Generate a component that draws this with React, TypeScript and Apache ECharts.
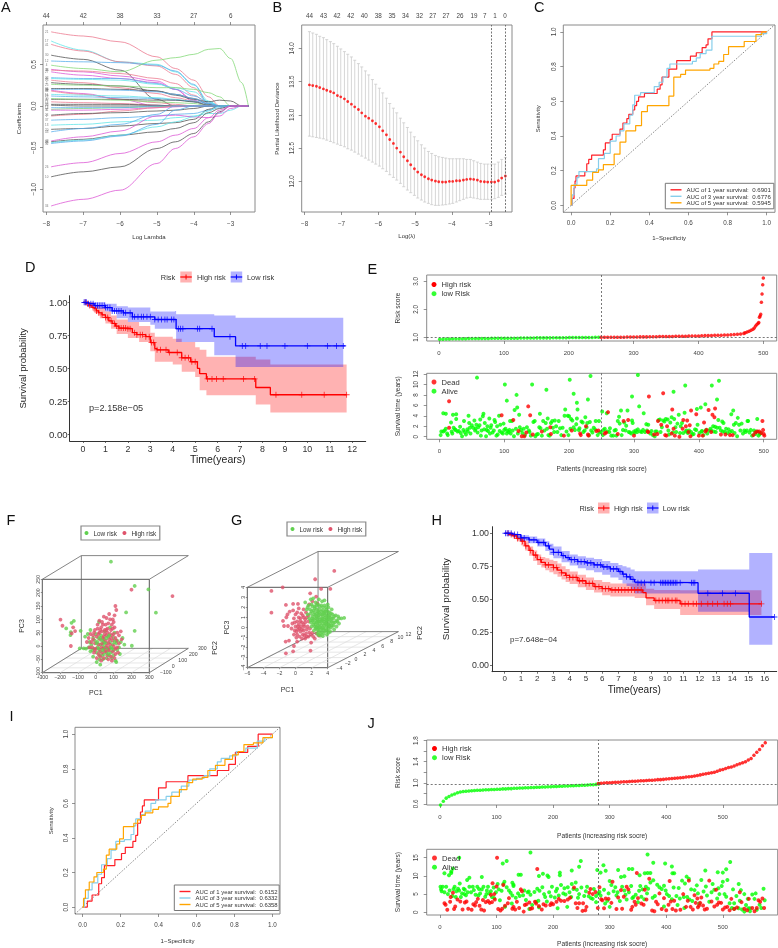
import React, { useEffect, useRef } from "react";
import * as echarts from "echarts";

const FONT = "Liberation Sans";

// ---------- Panel A ----------
const aKnots = [-7.87, -7, -6, -5, -4.5, -4, -3.6, -3.3, -3, -2.7, -2.52];
const aColors = ["#555555", "#ec7b90", "#85d97a", "#5cb0ec", "#62e6e8", "#dd5ad6"];
const aLines: number[][] = [
  [1, .89, .84, .77, .59, .45, .31, .11],
  [4, .78, .67, .53, .5, .41, .25, .06],
  [1, .74, .66, .53, .48, .38, .22, .03],
  [0, .61, .56, .43, .08],
  [3, .54, .53, .52, .49, .42, .26, .03],
  [2, .49, .45, .41, .55, .58, .62, .68, .69, .57, .28],
  [5, .44, .41, .36, .3, .2, .07],
  [1, .43, .42, .39, .33, .27, .13, .02],
  [5, .41, .37, .33, .28, .2, .05],
  [3, .34, .33, .33, .27, .2, .12, .05],
  [4, .33, .32, .31, .26, .22, .17, .05],
  [1, .31, .28, .22, .15, .1, .06],
  [0, .28, .26, .24, .18, .14, .09, .02],
  [2, .26, .25, .24, .22, .22, .2, .16, .11],
  [0, .21, .21, .2, .18, .13, .08, .05, .07, .06],
  [3, .2, .2, .19, .17, .14, .09, .03],
  [5, .19, .15, .08],
  [1, .18, .14, .08, .04, .02],
  [4, .14, .13, .12, .1, .08, .05, .01],
  [3, .12, .11, .1, .09, .07, .06, .03],
  [0, .08, .08, .08, .07, .07, .05, .01],
  [2, .09, .08, .07, .05, .04, .03],
  [1, .05, .04, .03, .01],
  [0, .02, .02, .02, .01],
  [0, .01],
  [2, -.04, -.03, -.02, -.01],
  [3, -.02, -.02, -.02],
  [5, -.05, -.05, -.04, -.02, -.01],
  [1, -.12, -.1, -.06, -.02],
  [0, -.11, -.09, -.08, -.06, -.05, -.03],
  [3, -.17, -.16, -.14, -.12, -.1, -.09, -.05, -.02],
  [4, -.23, -.22, -.19, -.17, -.14, -.12, -.09, -.09, -.05],
  [0, -.28, -.27, -.24, -.21, -.2, -.16, -.04],
  [3, -.31, -.27, -.22, -.1],
  [5, -.42, -.37, -.3, -.12, -.11, -.13, -.14, -.12, -.03],
  [0, -.43, -.4, -.35, -.31, -.27, -.2, -.08, -.03],
  [4, -.44, -.41, -.35, -.25, -.19, -.13, -.06],
  [3, -.45, -.42, -.36, -.22, -.05],
  [0, -.85, -.79, -.73, -.51, -.43, -.33, -.19, -.07],
  [5, -.73, -.68, -.57, -.43, -.35, -.27, -.14, -.05],
  [5, -1.2, -1.12, -1.01, -.69, -.51, -.37, -.21, -.08],
];
const aIds = ["21","17","41","30","12","4","38","9","27","33","6","15","2","25","36","19","8","44","11","29","3","40","14","22","35","7","18","31","1","24","37","13","20","43","42","28","5","32","10","26","34"];
const aTop: Record<string, string> = { "-8": "44", "-7": "42", "-6": "38", "-5": "33", "-4": "27", "-3": "6" };

// ---------- Panel B ----------
const bX = [-7.87,-7.78,-7.68,-7.59,-7.49,-7.40,-7.30,-7.21,-7.11,-7.02,-6.92,-6.83,-6.73,-6.64,-6.54,-6.45,-6.35,-6.26,-6.16,-6.07,-5.97,-5.88,-5.78,-5.69,-5.59,-5.50,-5.40,-5.31,-5.21,-5.12,-5.02,-4.93,-4.83,-4.74,-4.64,-4.55,-4.45,-4.36,-4.26,-4.17,-4.07,-3.98,-3.88,-3.79,-3.69,-3.60,-3.50,-3.41,-3.31,-3.22,-3.12,-3.03,-2.93,-2.84,-2.74,-2.65,-2.55];
const bMid = [13.45,13.44,13.43,13.41,13.39,13.37,13.35,13.33,13.29,13.27,13.24,13.20,13.16,13.12,13.08,13.03,12.98,12.95,12.91,12.87,12.82,12.76,12.70,12.63,12.57,12.50,12.44,12.37,12.31,12.25,12.19,12.14,12.10,12.07,12.04,12.02,12.005,11.995,11.99,11.99,12.0,12.0,12.01,12.01,12.02,12.03,12.035,12.03,12.02,12.0,11.995,11.99,11.99,11.99,12.01,12.05,12.08];
const bUp = [14.25,14.23,14.21,14.18,14.16,14.13,14.10,14.07,14.03,13.99,13.95,13.91,13.87,13.82,13.77,13.72,13.66,13.60,13.53,13.46,13.40,13.33,13.25,13.17,13.10,13.03,12.95,12.88,12.81,12.74,12.67,12.61,12.55,12.50,12.45,12.42,12.39,12.37,12.36,12.35,12.34,12.34,12.34,12.34,12.34,12.33,12.33,12.31,12.29,12.27,12.26,12.26,12.26,12.26,12.29,12.33,12.36];
const bLo = [12.68,12.67,12.66,12.65,12.64,12.62,12.60,12.58,12.56,12.54,12.52,12.49,12.47,12.44,12.41,12.38,12.35,12.32,12.29,12.26,12.23,12.19,12.15,12.10,12.06,12.02,11.97,11.92,11.87,11.83,11.79,11.75,11.72,11.69,11.67,11.65,11.64,11.64,11.645,11.65,11.66,11.67,11.69,11.71,11.73,11.75,11.76,11.75,11.74,11.73,11.73,11.73,11.73,11.74,11.76,11.79,11.81];
const bTopX = [-7.87,-7.49,-7.12,-6.75,-6.38,-6.0,-5.63,-5.26,-4.88,-4.52,-4.16,-3.78,-3.40,-3.11,-2.83,-2.56];
const bTopL = ["44","43","42","42","40","38","35","34","32","27","27","26","19","7","1","0"];
const bVert = [-2.93, -2.56];

// ---------- Panel C ----------
const cRed = [[0,0],[.005,.04],[.015,.1],[.02,.14],[.025,.17],[.07,.195],[.08,.24],[.09,.265],[.105,.29],[.165,.32],[.175,.36],[.2,.38],[.21,.41],[.25,.44],[.265,.475],[.285,.5],[.295,.525],[.315,.55],[.325,.575],[.335,.6],[.345,.625],[.375,.645],[.44,.67],[.455,.695],[.465,.74],[.5,.785],[.54,.835],[.61,.86],[.64,.88],[.67,.91],[.69,.925],[.7,.96],[.72,1],[.97,1],[1,1]];
const cBlue = [[0,0],[.005,.06],[.015,.12],[.03,.16],[.04,.195],[.13,.21],[.14,.27],[.17,.3],[.2,.37],[.23,.4],[.25,.43],[.27,.47],[.3,.52],[.315,.58],[.325,.635],[.355,.65],[.425,.685],[.45,.71],[.47,.74],[.49,.79],[.505,.815],[.62,.83],[.64,.85],[.66,.875],[.69,.895],[.72,.975],[.95,.975],[.97,.99],[1,1]];
const cOrange = [[0,0],[0,.115],[.08,.145],[.11,.19],[.14,.205],[.165,.235],[.22,.295],[.25,.365],[.28,.43],[.33,.46],[.36,.54],[.39,.575],[.5,.63],[.525,.74],[.56,.755],[.585,.78],[.71,.79],[.73,.815],[.755,.83],[.78,.87],[.805,.915],[.885,.945],[.945,.985],[.975,1],[1,1]];
const cNames = ["AUC of 1 year survival:  0.6901", "AUC of 3 year survival:  0.6776", "AUC of 5 year survival:  0.5945"];

// ---------- Panel I ----------
const iRed = [[0,0],[.025,.035],[.05,.07],[.085,.135],[.1,.17],[.115,.24],[.17,.275],[.205,.31],[.225,.345],[.265,.38],[.28,.415],[.29,.485],[.305,.55],[.315,.585],[.325,.62],[.4,.69],[.44,.725],[.555,.76],[.71,.79],[.77,.825],[.805,.895],[.87,.93],[.925,1],[1,1]];
const iBlue = [[0,0],[.01,.05],[.03,.1],[.05,.14],[.08,.19],[.1,.245],[.13,.28],[.15,.33],[.175,.38],[.22,.39],[.255,.42],[.27,.47],[.28,.51],[.31,.535],[.33,.555],[.36,.6],[.385,.62],[.44,.64],[.47,.665],[.52,.7],[.56,.735],[.6,.745],[.64,.76],[.67,.8],[.71,.84],[.73,.86],[.775,.875],[.81,.9],[.86,.92],[.92,.96],[.96,.98],[1,1]];
const iOrange = [[0,0],[.005,.05],[.015,.1],[.035,.145],[.06,.175],[.075,.2],[.11,.22],[.125,.3],[.14,.335],[.18,.365],[.195,.395],[.215,.465],[.27,.485],[.29,.505],[.31,.53],[.33,.545],[.37,.565],[.4,.58],[.45,.6],[.465,.64],[.51,.68],[.55,.72],[.58,.74],[.63,.75],[.66,.79],[.7,.82],[.75,.855],[.79,.88],[.82,.9],[.85,.94],[.9,.95],[.95,.98],[1,1]];
const iNames = ["AUC of 1 year survival:  0.6152", "AUC of 3 year survival:  0.6332", "AUC of 5 year survival:  0.6358"];

// ---------- Panel D ----------
const dHigh = [[0,1],[.15,.99],[.3,.975],[.4,.96],[.5,.95],[.6,.935],[.7,.92],[.85,.905],[1,.885],[1.15,.86],[1.3,.84],[1.45,.82],[1.6,.805],[2,.8],[2.2,.77],[2.4,.755],[2.8,.74],[3,.695],[3.2,.65],[3.3,.64],[3.8,.62],[4.3,.62],[4.4,.58],[4.8,.55],[5.1,.5],[5.2,.46],[5.5,.42],[7.7,.355],[8.35,.3],[11.75,.3]];
const dLow = [[0,1],[.25,.99],[.5,.975],[1,.96],[1.3,.935],[1.8,.92],[2.2,.89],[3.2,.87],[4.15,.8],[5.85,.74],[6.8,.67],[11.7,.67]];
const dHighBand = [[0,1,1],[.25,.96,1],[.5,.92,.98],[.75,.88,.96],[1,.84,.93],[1.25,.8,.9],[1.5,.76,.87],[2,.73,.85],[2.5,.7,.82],[3,.63,.77],[3.2,.55,.74],[4,.53,.725],[4.4,.475,.7],[5,.435,.66],[5.2,.335,.64],[5.5,.297,.587],[7.7,.227,.567],[8.35,.166,.53],[11.75,.166,.53]];
const dLowBand = [[0,1,1],[.25,.98,1],[.5,.95,1],[1,.93,.99],[1.5,.88,.97],[2,.85,.96],[3,.83,.93],[3.2,.8,.93],[4.1,.8,.935],[4.15,.7,.91],[5.85,.6,.9],[6.8,.51,.884],[11.6,.51,.884]];
const dHighCens = [.1,.2,.3,.45,.6,.7,.85,1,1.1,1.25,1.4,1.5,1.6,1.7,1.8,1.9,2,2.1,2.3,2.4,2.55,2.65,2.8,2.95,3.05,3.15,3.3,3.45,3.7,3.85,4.2,4.4,4.55,4.7,4.85,5,5.55,5.75,5.95,6.25,7.15,7.65,8.6,9.75,10.75,11.75];
const dLowCens = [.05,.1,.15,.25,.35,.45,.55,.65,.75,.85,.95,1,1.1,1.2,1.3,1.4,1.5,1.6,1.7,1.8,1.9,2.1,2.2,2.3,2.45,2.6,2.7,2.85,3,3.2,3.35,3.5,3.65,3.75,3.95,4.05,4.25,4.35,4.45,5.1,5.2,5.75,6.55,7.1,7.25,7.9,8.2,9,10,10.9,11.3,11.6];

// ---------- Panel H ----------
const hHigh = [[0,1],[.25,.99],[.5,.98],[.75,.96],[1,.94],[1.25,.905],[1.5,.87],[1.75,.835],[2,.8],[2.25,.78],[2.5,.76],[3,.74],[3.25,.72],[3.5,.7],[3.75,.68],[4,.665],[4.5,.64],[5,.62],[5.5,.595],[6,.58],[6.5,.57],[8.5,.55],[8.7,.51],[9.2,.49],[10.8,.465],[15.8,.465]];
const hLow = [[0,1],[.5,.99],[1,.965],[1.5,.95],[2,.93],[2.5,.905],[2.75,.88],[3,.855],[3.5,.83],[3.75,.815],[4,.8],[4.5,.785],[5,.775],[5.5,.76],[6,.745],[6.5,.73],[7,.71],[7.25,.69],[7.5,.67],[7.75,.65],[8,.63],[8.2,.625],[11.9,.545],[15.05,.365],[16.6,.365]];
const hHighBand = [[0,1,1],[.25,.98,1],[.5,.96,.99],[.75,.94,.98],[1,.91,.97],[1.25,.87,.94],[1.5,.83,.9],[1.75,.79,.87],[2,.76,.84],[2.25,.74,.82],[2.5,.72,.81],[2.75,.705,.8],[3,.69,.79],[3.25,.67,.77],[3.5,.65,.75],[3.75,.63,.73],[4,.615,.71],[4.5,.59,.685],[5,.57,.665],[5.5,.55,.645],[6,.53,.63],[6.5,.52,.62],[8,.51,.62],[8.7,.455,.58],[9.2,.425,.57],[10.8,.38,.568],[15.8,.38,.568]];
const hLowBand = [[0,1,1],[.25,.99,1],[.5,.98,1],[.75,.96,.995],[1,.945,.985],[1.5,.925,.975],[2,.9,.96],[2.5,.865,.94],[2.75,.835,.92],[3,.81,.9],[3.5,.78,.865],[4,.755,.84],[4.5,.735,.825],[5,.72,.815],[5.5,.705,.805],[6,.685,.79],[6.5,.665,.775],[7,.645,.76],[7.25,.62,.75],[7.5,.6,.74],[7.75,.57,.725],[8,.543,.712],[11.9,.404,.725],[15.05,.155,.85],[16.47,.155,.85]];
const hHighCens = [.2,.4,.6,.8,1.1,1.3,1.6,1.9,2.2,2.5,2.7,3,3.2,3.5,3.8,4,4.2,4.4,4.6,4.8,5,5.2,5.4,5.6,5.8,6,6.2,6.4,6.6,6.8,7,7.2,7.4,7.6,7.8,8,8.2,8.4,9.3,9.5,9.7,9.9,10,10.1,10.3,10.5,10.6,10.9,11.1,11.3,11.6,11.8,12.1,12.5,12.8,13.1,13.5,13.7,13.9,15.8];
const hLowCens = [.05,.15,.25,.4,.6,.8,1,1.2,1.5,1.8,2.1,2.4,2.7,3,3.3,3.6,3.9,4.1,4.3,4.5,4.7,4.9,5.1,5.3,5.5,5.7,5.9,6.1,6.3,6.5,6.7,6.9,7.1,7.3,7.5,7.7,7.9,8.2,8.4,8.6,9,9.2,9.6,9.7,9.8,9.9,10,10.1,10.2,10.3,10.4,10.5,10.6,10.8,11.5,11.6,11.7,12.5,13.4,14.2,16.6];

// ---------- Panel E ----------
const eLowScore = [.93,.935,.94,.94,.945,.945,.95,.95,.95,.955,.955,.955,.96,.96,.96,.96,.965,.965,.965,.965,.97,.97,.97,.97,.97,.975,.975,.975,.975,.975,.98,.98,.98,.98,.98,.985,.985,.985,.985,.985,.99,.99,.99,.99,.99,.995,.995,.995,1,1];
const eHighScore = [1,1,1,1,1,1.005,1.005,1.005,1.01,1.01,1.01,1.01,1.015,1.015,1.015,1.02,1.02,1.02,1.025,1.025,1.03,1.03,1.03,1.035,1.035,1.04,1.04,1.045,1.045,1.05,1.05,1.055,1.06,1.06,1.065,1.07,1.07,1.075,1.08,1.085,1.09,1.1,1.11,1.12,1.14];
const eTail = [[472,1.16],[475,1.19],[478,1.22],[481,1.25],[484,1.29],[486,1.33],[488,1.4],[490,1.46],[492,1.5],[493,1.53],[494,1.72],[495,1.76],[496,1.82],[497,2.25],[498,2.55],[499,2.88],[500,3.12]];
const eDead = [[15,6.8],[96,4.1],[137,5.8],[140,4.1],[114,3.2],[15,1.7],[122,1.1],[127,.1],[131,.1],[134,.8],[144,.4],[158,1],[171,1.8],[172,.5],[192,.2],[204,1.2],[217,.6],[218,.3],[226,2],[229,.4],[230,.2],[242,1.1],[245,1.2],[260,4.7],[257,.8],[255,.6],[275,.5],[284,3],[291,3.2],[300,.2],[322,.9],[321,1],[323,7.7],[345,8.3],[331,.4],[336,.5],[337,3],[342,2.3],[348,.3],[350,.2],[351,2],[358,.6],[359,5.2],[361,1.5],[363,.2],[370,0],[375,1.5],[376,3.2],[380,2],[382,3.1],[384,.9],[386,2.2],[387,.1],[388,5],[396,4.3],[400,.2],[406,.2],[408,2.7],[410,1],[412,1.3],[415,5.1],[419,.9],[421,4.2],[424,3.7],[425,5.4],[434,.4],[441,.4],[448,.3],[452,.3],[484,.3],[487,.8],[490,1],[493,1],[496,.7],[498,3],[499,1.3],[500,.5],[501,.2]];
const eAlive = [[58,11.3],[101,10],[143,10],[165,9],[201,10.9],[233,11.6],[306,11.8],[379,9.8],[420,9.8],[431,10.7],[361,8.6],[207,8.2],[119,8],[104,6.9],[297,7.7],[229,7.1],[212,6.5],[428,7.1],[6,4.5],[10,4.4],
[2,.3],[3,1],[6,1],[8,1.2],[10,1.5],[12,.6],[13,.3],[18,2.7],[19,1],[20,.6],[21,4.2],[22,1.7],[24,1.4],[25,1.3],[26,3.4],[26,4.3],[28,1],[30,1.1],[32,1.9],[33,.7],[35,.1],[37,1.3],[38,3],[39,.9],[41,.4],[43,1.4],[44,1],[45,4],[46,2.6],[47,1.7],[48,.6],[50,2.2],[52,1.7],[54,3.1],[55,1.2],[56,1.5],[57,2.3],[59,.8],[60,1.8],[62,2.2],[63,3.3],[64,.2],[65,1.2],[67,3.9],[68,4.4],[69,1.4],[70,2.6],[72,.1],[73,1.3],[74,2],[75,1.1],[77,3.5],[78,.6],[79,1.7],[80,2.2],[82,.8],[84,1.2],[85,3.2],[86,2.8],[88,.2],[89,2],[90,.4],[92,4],[93,1.1],[94,2.3],[96,.8],[98,.6],[99,2.5],[100,1.3],[102,1.5],[104,.6],[105,1.1],[107,.9],[108,1.3],[109,3],[110,.6],[112,3],[113,1.2],[115,.1],[116,5.1],[118,1.5],[120,5.6],[121,.6],[123,4.2],[124,1.8],[126,1.3],[128,.7],[130,1.5],[132,.3],[135,1.8],[138,1.2],[139,.9],[141,.2],[145,2.8],[147,3],[148,.1],[150,.4],[152,.5],[154,1.8],[155,4.4],[156,1.6],[158,.2],[160,3],[162,1.2],[164,2.6],[166,1.5],[167,3.5],[168,.3],[170,.2],[172,2.6],[174,3],[175,1.7],[177,.9],[178,3.1],[180,2],[182,.9],[184,3],[186,1.6],[188,.3],[190,1.7],[193,4],[194,5.2],[196,1],[198,4],[199,.3],[200,3.9],[202,1.5],[203,3.4],[205,3.1],[207,1.8],[209,1.3],[211,2.4],[212,3.5],[213,5.2],[215,1.3],[216,1.6],[219,2.9],[221,2.7],[222,.9],[224,1.2],[225,3.7],[227,1.8],[228,2.6],[231,.3],[232,2.8],[234,1.2],[236,.8],[238,1.7],[240,1.4],[241,3],[244,.3],[246,3],[247,.8],[249,.9],
[251,4.8],[252,.3],[253,1.3],[255,1.5],[258,4.5],[259,1],[262,.9],[263,1.6],[265,.2],[268,.2],[270,1.2],[272,1.3],[273,.2],[275,3],[277,3.8],[278,2.5],[280,5],[281,.3],[283,1.3],[285,2.7],[287,1.2],[288,2.1],[290,5],[292,.9],[294,.8],[296,.6],[297,3.1],[298,2.6],[300,1],[301,.7],[303,1.2],[305,.9],[306,1.4],[308,5.8],[310,1],[312,.9],[314,1.3],[315,4.5],[317,.9],[319,2.4],[320,1.2],[322,2.3],[325,.6],[327,1.1],[329,.3],[332,.1],[333,1],[335,1],[338,3.2],[340,3.3],[341,.9],[343,1.8],[345,3.1],[347,2.9],[349,3.4],[352,3.3],[353,1.2],[354,.4],[356,2.7],[358,3.7],[360,.8],[362,3.4],[364,1.8],[365,.9],[367,2.5],[369,4.2],[371,.7],[372,2],[374,2.6],[376,.7],[378,4.6],[380,1],[381,1.2],[383,.7],[385,1.2],[388,.9],[390,.4],[392,.5],[394,1.4],[396,1.3],[397,5.3],[398,2.3],[401,.7],[403,5.6],[404,1],[405,1.1],[407,.3],[410,6.2],[411,1.3],[413,.6],[416,1.2],[418,1.5],[419,1.2],[422,2],[423,1],[425,1.9],[426,.9],[428,1.7],[430,3.2],[432,1.7],[434,1.2],[436,2.9],[437,1],[438,2.6],[440,.9],[442,1.5],[444,.7],[446,1.4],[448,.9],[450,4.3],[451,1.1],[453,5],[454,2.3],[455,.7],[457,2.6],[459,.1],[460,3.6],[462,2.3],[464,1.2],[466,2.5],[468,.6],[470,1.2],[472,.9],[474,1.2],[475,3],[476,3],[478,.8],[480,1.3],[482,.2],[485,1.2],[487,.5],[489,1],[490,3.4],[492,.2],[494,.5],[495,.7]];

// ---------- Panel J ----------
const jLowScore = [.58,.65,.71,.74,.77,.79,.81,.825,.835,.84,.845,.85,.855,.86,.86,.865,.87,.87,.875,.875,.88,.88,.885,.885,.89,.89,.895,.895,.9,.9,.905,.905,.91,.91,.915,.915,.92,.92,.925,.925,.93,.93,.935,.935,.94,.94,.945,.945,.95,.95,.955,.955,.96,.965,.965,.97,.98];
const jHighScore = [.985,.99,.995,1,1,1.005,1.01,1.01,1.015,1.02,1.02,1.025,1.03,1.03,1.035,1.04,1.04,1.045,1.05,1.05,1.055,1.06,1.06,1.065,1.07,1.075,1.08,1.085,1.09,1.095,1.1,1.11,1.115,1.12,1.13,1.14,1.15,1.16,1.17,1.18,1.19,1.2,1.22,1.24,1.25,1.27,1.29,1.3,1.32,1.34,1.36,1.38,1.4,1.43,1.46,1.52,1.58,1.63,1.7,1.76];
const jDead = [[8,2.5],[10,2.1],[13,.7],[18,2.9],[19,4.2],[23,5.4],[25,.9],[27,1.6],[31,3.5],[36,3],[40,.8],[44,2.7],[47,3],[50,1],[56,.7],[59,2.2],[62,1.9],[64,2.8],[67,3.7],[70,1.8],[73,.8],[76,3.4],[78,.5],[81,2.8],[85,3.1],[88,2.6],[90,4.8],[92,2.8],[93,8],[96,5],[97,3.5],[101,15],[100,7.1],[103,.9],[107,.5],[110,1],[112,7.5],[115,1.8],[120,2.5],[122,3.9],[128,1],[130,1.5],[133,.8],[136,2.9],[140,1.2],[143,6.3],[145,5.8],[148,.2],[150,2],[153,2.2],[158,2.7],[160,1],[163,1.1],[168,2.9],[170,2.4],[172,11.9],[175,1.7],[180,.8],[183,2.2],[187,1.9],[195,2],[197,2.5],[200,2.2],[206,2.9],[210,3.7],[214,3.2],[220,3.1],[226,3.5],[230,4],[237,6.8],[240,2.5],[243,1.2],[246,2.5],[252,.4],[253,2.5],[257,.6],[259,1.5],[264,5.4],[266,6.4],[270,5],[275,5.6],[279,1.2],[282,6.9],[285,3.6],[287,3.3],[290,1.1],[293,3.8],[298,3.7],[303,2.6],[305,8.4],[312,.9],[315,4.1],[320,6.1],[322,1],[325,4.3],[330,7],[333,6.3],[338,.7],[340,1.5],[344,2.9],[346,2.1],[348,10.8],[350,3.9],[356,2.4],[360,2.1],[362,6.2],[365,3.5],[370,9.2],[375,.5],[379,.3],[382,2.9],[385,2.2],[388,5.2],[392,.9],[396,3.9],[400,.6],[404,2.1],[406,8.6],[408,3],[411,.9],[414,3.2],[417,.5],[425,.7],[430,5],[435,1.5],[438,3.2],[440,8.7],[443,1.5],[447,.8],[450,4.7],[452,2.6],[455,3.8],[456,1.4],[458,1.9],[460,2.6],[462,4.1],[465,1.9],[468,.8],[472,1],[476,8.7],[480,3],[485,1.6],[488,6.2],[490,2.1],[493,2.7],[497,2.6],[500,.8],[504,1.3],[508,1.5],[512,.6],[515,3.7],[520,.9],[525,1.3],[530,5.5],[533,2.8],[538,1],[543,.6],[546,3.7],[552,1.2],[556,.3],[560,1.2],[563,3.3],[566,2.9],[570,3.8],[573,1.2]];
const jAlive = [[160,16.4],[367,15.9],[34,15],[111,13.4],[118,14.1],[249,14.1],[246,12.5],[377,13.6],[398,13.4],[410,12.6],[513,13.8],[289,12.9],[23,12],[20,11.2],[8,10.7],[16,10.2],[20,10.8],[139,10.3],[143,10.3],[175,10],[182,10.6],[190,10.1],[192,9.7],[212,10.9],[212,10.2],[233,11.5],[278,11.6],[284,10.9],[293,11.4],[315,11.6],[320,9.7],[326,9.9],[334,11.9],[340,11.9],[353,10.2],[362,10.7],[367,10.8],[372,10.8],[411,10.7],[414,10.7],[436,9.8],[440,9.2],[469,11.5],[491,11],[500,10.9],[506,11.8],[500,8.4],[74,9.7],[52,9.5],[48,8.9],[35,7.9],[102,7.8],[114,8.4],[128,8.1],[130,7.6],
[1,7],[2,6.3],[3,5.8],[5,7],[8,5.5],[11,7],[14,5],[17,6],[22,4.5],[24,6.4],[26,7],[29,5.8],[32,6.5],[34,6],[37,4.2],[39,5.2],[42,6.5],[43,5],[46,4.7],[49,5.5],[52,7],[55,5.5],[58,7],[60,6.1],[63,4.8],[66,7],[69,6.4],[71,5.2],[74,6.3],[77,7],[80,4.3],[83,6],[85,7],[87,5.2],[90,5.8],[92,4.2],[95,6.8],[99,5.5],[104,6.3],[106,3.3],[112,7.8],[115,1.5],[118,6.9],[122,6],[125,5.4],[127,2.4],[130,7.2],[134,4],[138,5.2],[141,4.5],[147,4.7],[152,3.4],[155,5.5],[157,5.7],[163,2],[167,5.6],[170,2.9],[174,3.2],[176,5.9],[181,6.9],[186,4.2],[189,3],[193,5.5],[198,7],[203,4.1],[207,6.5],[210,4.6],[214,7.5],[218,5.2],[222,4.9],[226,6.9],[229,5.5],[233,7.8],[236,6.4],[240,8.2],[242,6.2],[246,5],[250,6.8],[255,4.5],[260,7],[263,4.4],[267,3.9],[272,6.4],[276,4.5],[280,5.2],[284,4.6],[290,6.2],[292,2.4],[296,3.2],[300,8.6],[303,7.5],[307,5.8],[310,6.9],[314,5.5],[318,3.1],[322,7],[326,6],[330,3.5],[334,5.5],[338,7.2],[342,4.2],[346,4.8],[352,5.9],[356,4.3],[358,6.3],[361,3.6],[364,7],[368,6.5],[372,8.2],[377,8.8],[380,4.5],[388,6.9],[392,6.4],[396,7.3],[401,5],[405,4.5],[413,6.8],[418,4.5],[424,3.8],[428,8.7],[433,7.9],[437,4.2],[441,3.5],[446,3.1],[450,6.1],[454,7.4],[458,2.4],[462,8.9],[466,5.7],[472,4.6],[476,2.9],[482,7.8],[485,6.2],[490,3.8],[494,5],[498,7.2],[503,5],[508,8.9],[512,2.5],[516,1.2],[520,1],[524,4.5],[528,7.8],[532,6.1],[538,5],[541,2],[545,1.1],[548,.3],[552,4.9],[556,3.7],[560,.7],[565,2.1],[568,1.2],[572,6.5],[574,3.3],[528,1.1],[538,.2],[520,2.5],[534,.8],[548,1.1],[432,1.2],[420,2],[396,1.6],[376,4],[350,2.8],[300,1.5],[276,2.8],[225,1.5],[208,1.1],[175,1.4],[158,.9],
[28,4.2],[44,6.2],[68,4.6],[82,5],[96,3.9],[109,5.9],[128,4.6],[149,6],[160,4.8],[172,6.5],[184,5],[196,4.4],[205,5.8],[220,6.6],[232,4.2],[244,4],[258,5.8],[270,3.7],[282,5.6],[298,5.2],[312,4.6],[328,4.8],[340,3.9],[354,7.2],[366,5.2],[384,7.6],[399,6],[410,3.6],[422,6.7],[431,4.2],[444,6.3],[456,5.2],[470,7.1],[480,5.5],[492,6.6],[506,4.3],[518,6.3],[530,3.2],[544,3.7],[558,5.2]];

// ---------- Panel F (PC1 against PC3 as seen on the box front) ----------
const fLowRisk = [[85,316],[218,225],[295,212],[337,125],[218,57],[202,1],[170,126],[18,90],[-123,94],[-136,87],[-166,66],[-85,57],[-142,41],[-140,52],[-90,-9],[-68,-9],
[-60,35],[-45,45],[-30,60],[-15,30],[0,45],[-25,5],[-40,-5],[-55,-10],[-10,-10],[10,15],[25,5],[45,25],[60,10],[80,15],[100,30],[115,10],[130,-5],[140,15],[150,30],[160,5],[135,-30],[100,-15],[85,-25],[65,-10],[45,-5],[25,-20],[5,-25],[-15,-40],[5,-60],[25,-70],[20,-50],[45,-30],[60,-45],[90,-45],[110,-55],[115,-60],[70,35],[50,55],[30,40],[15,30],[-5,20],[80,70],[60,-25],[35,-35],[10,-5],[70,-15],[95,5],[55,-5],[40,5],[-30,-20],[120,20],[105,50],[-20,-15],[-35,15],[20,-35],[40,-50],[75,-35],[100,-35],[120,-15]];
const fHighRisk = [[430,187],[200,211],[110,150],[-198,99],[-187,76],[-140,0],[-127,70],[-135,47],[-116,56],
[20,95],[45,110],[60,105],[75,120],[95,100],[105,115],[115,135],[100,90],[90,80],[70,85],[55,80],[40,80],[30,70],[10,65],[-5,60],[15,45],[35,55],[50,60],[65,65],[85,60],[105,70],[120,50],[130,40],[140,55],[100,45],[80,45],[60,40],[40,30],[25,25],[5,35],[-15,40],[-30,45],[-40,30],[-50,15],[-25,15],[-5,10],[15,5],[35,10],[55,20],[75,25],[95,20],[115,20],[130,10],[145,25],[120,-5],[100,0],[80,5],[60,0],[40,-10],[20,-15],[0,-10],[-20,-5],[-35,-5],[-10,-25],[15,-30],[35,-25],[55,-20],[75,-15],[95,-20],[110,-30],[125,-25],[105,-45],[85,-40],[65,-35],[45,-45],[25,-40],[5,-45],[30,-55],[70,-50],[90,-55],[50,-15],[60,60],[45,15],[70,12],[20,50],[85,30],[30,-5],[-15,25],[10,80],[50,45],[95,65],[110,-10],[-5,-15],[75,-5],[35,90],[80,100],[65,50],[25,60],[45,35],[90,40],[-10,50],[110,30]];
const fLowTop = [[25,30],[60,30],[85,-5],[40,-15],[5,10],[105,15],[70,-30],[50,12],[15,-10],[90,-10],[75,40],[35,20]];
const fDepth = [["−100",165.7,671.7],["0",173.3,666],["100",182.7,659.7],["200",193.3,654.3],["300",202.3,647.7]];

// ---------- Panel G (PC1 against PC3 as seen on the box front) ----------
const gHighRisk = [[-3,3.64],[-1.6,4],[-3,1.48],[4.82,5.63],[2.44,4.8],[3.18,3.84],[4.33,3.84],[1.82,3.4],[2.56,3.08],[-1.2,2.25],[-.3,2.35],[.3,2.35],[-1.14,1.02],[-1.56,.65],[-1.43,.15],[-.94,.15],[-1,1.3],[-.73,1.58],[-1.23,-1.4],[-.81,-1.3],[-.2,-1.84],[-1.2,-2.57],[-.3,-2.37],[1.86,-2.3],[1.94,-1.5],[.2,-1.4],[2.4,-1.1],[1.2,-1.1],
[-.3,1.7],[0,1.3],[.4,1.9],[.7,1.4],[1,1.8],[1.3,1.5],[-.2,.9],[.2,.6],[.6,.9],[1,1],[1.4,1],[-.4,.4],[0,.1],[.4,.3],[.8,.5],[1.2,.5],[1.6,.6],[-.5,-.1],[-.1,-.3],[.3,-.2],[.7,.1],[1.1,.1],[1.5,.1],[-.2,-.7],[.2,-.7],[.6,-.4],[1,-.3],[1.4,-.2],[1.8,-.1],[.1,-1],[.5,-.9],[.9,-.7],[1.3,-.6],[1.7,-.5],[2.1,-.5],[.8,-1.1],[1.6,-.9],[2.2,-.9],[.6,.6],[1,.3],[.4,1],[.1,-.4],[.5,-.1],[2.6,-.6],[2.9,-.8],[1.7,2.3],[2.1,2.6],[2.7,2.4],[.9,1.2],[.2,1.5],[1.2,.8],[.8,-.2],[.3,.1],[1.4,-.9],[-.1,.5],[1.9,-.7],[1.1,-.8],[1.6,1.2]];
const gLowRisk = [[1.9,2.8],[2.2,2.9],[2.5,2.5],[2.9,2.8],[3.3,2.6],[3.6,2.7],[4,2.3],[1.6,2.2],[2,2.3],[2.4,2.1],[2.8,2.3],[3.2,2.2],[3.6,2.2],[4.1,2],[4.5,1.8],[1.4,1.8],[1.8,1.8],[2.2,1.7],[2.6,1.8],[3,1.8],[3.4,1.7],[3.8,1.8],[4.2,1.5],[4.6,1.3],[5,1.2],[5.4,.9],[1.5,1.3],[1.9,1.4],[2.3,1.3],[2.7,1.4],[3.1,1.3],[3.5,1.4],[3.9,1.3],[4.3,1],[4.7,.9],[5.2,.6],[5.7,.9],[1.7,.9],[2.1,.9],[2.5,.9],[2.9,1],[3.3,.9],[3.7,1],[4.1,.8],[4.5,.6],[4.9,.5],[5.4,.4],[1.9,.5],[2.3,.5],[2.7,.6],[3.1,.6],[3.5,.6],[3.9,.5],[4.3,.4],[4.7,.2],[5.1,.1],[2,.1],[2.4,.1],[2.8,.2],[3.2,.2],[3.6,.2],[4,.1],[4.4,0],[4.8,-.2],[2.3,-.3],[2.7,-.2],[3.1,-.2],[3.5,-.2],[3.9,-.3],[4.3,-.4],[2.7,-.6],[3.1,-.6],[3.5,-.6],[3.9,-.7],[3.1,-.8],[3.4,-.85],[1.2,2.5],[1.5,2],[2.4,1.5],[2.9,1.5],[3.4,1.1],[3.9,.9],[2.5,.3],[3,.4],[3.4,.4],[3.8,.7],[2.1,.7],[2.6,1.1],[3.2,1.6],[3.7,1.6],[4.2,1.2],[2.9,-.4],[3.7,-.1],[4.1,-.1],
[2.1,2.1],[2.6,2.2],[3,2.1],[3.4,2],[3.8,2],[2,1.6],[2.4,1.9],[2.8,1.6],[3.6,1.5],[4,1.6],[4.4,1.4],[4.8,1.1],[2.1,1.1],[2.5,1.2],[2.9,1.2],[3.3,1.3],[3.7,1.2],[4.1,1.1],[4.5,.9],[1.9,.7],[2.3,.8],[2.7,.8],[3.1,.8],[3.5,.8],[3.9,.7],[4.3,.7],[4.7,.5],[2.2,.3],[2.6,.5],[2.9,.6],[3.3,.7],[3.7,.4],[4.1,.3],[4.5,.2],[2.6,0],[3,.05],[3.4,0],[3.8,.3],[4.2,.15],[2.5,-.1],[2.9,-.05],[3.3,-.1],[3.7,-.35],[4.1,-.5],[2.9,-.75],[3.3,-.45],[5.1,.7],[5.3,1.1],[6.05,.95]];
const gDepth = [["−4",339.3,668.3],["−2",347.7,663.3],["0",356,659],["2",365,654.3],["4",374,650],["6",382.7,645.7],["8",391.7,641],["10",400.5,636.5],["12",408.5,634]];

const panelLetters = [["A",1,14],["B",272.5,14],["C",534,14],["D",25,274],["E",367.5,276],["F",6.5,527],["G",231,527],["H",431.5,527],["I",9.5,723],["J",367.5,730]];

// ---------- helpers ----------
type Box = [number, number, number, number];
const grids: any[] = [], xAxes: any[] = [], yAxes: any[] = [], series: any[] = [], legends: any[] = [], graphics: any[] = [];
const num = (d: number) => (v: number) => v.toFixed(d).replace("-", "−");

function axis(g: number, o: any) {
  return {
    type: "value", gridIndex: g, min: o.min, max: o.max, position: o.pos,
    splitLine: { show: false },
    axisLine: { show: !!o.line, onZero: false, lineStyle: { color: "#333", width: 1 } },
    axisTick: { show: true, length: o.tickLen ?? 3, customValues: o.tickValues || o.ticks, lineStyle: { color: o.tickColor || "#666", width: 0.7 } },
    axisLabel: { customValues: o.ticks, formatter: o.fmt, fontSize: o.size ?? 6.3, fontFamily: FONT, color: o.color || "#444", margin: o.margin ?? 5, rotate: o.rotate ?? 0 },
    name: o.name, nameLocation: "middle", nameGap: o.gap ?? 20,
    nameTextStyle: { fontSize: o.nameSize ?? 6, fontFamily: FONT, color: o.nameColor || "#333" },
  };
}
function panel(b: Box, x: any, y: any, frame = true) {
  const g = grids.length;
  grids.push({ show: frame, left: b[0], top: b[1], width: b[2] - b[0], height: b[3] - b[1], borderColor: "#8a8a8a", borderWidth: 1, backgroundColor: "transparent" });
  xAxes.push(axis(g, x));
  yAxes.push(axis(g, y));
  return { xAxisIndex: xAxes.length - 1, yAxisIndex: yAxes.length - 1, g };
}
const refs = (p: any) => ({ xAxisIndex: p.xAxisIndex, yAxisIndex: p.yAxisIndex });

function segments(p: any, segs: number[][], color: string, width: number, dash?: number[]) {
  series.push({
    type: "custom", ...refs(p), silent: true, data: segs, clip: false,
    renderItem: (_: any, api: any) => {
      const a = api.coord([api.value(0), api.value(1)]);
      const b = api.coord([api.value(2), api.value(3)]);
      return { type: "line", shape: { x1: a[0], y1: a[1], x2: b[0], y2: b[1] }, style: { stroke: color, lineWidth: width, lineDash: dash, fill: "none" } };
    },
  });
}
function label(text: string, x: number, y: number, size: number, opts: any = {}) {
  graphics.push({
    type: "text", x, y, rotation: opts.rotation || 0, silent: true, z: 10,
    style: { text, fontSize: size, fontFamily: FONT, fill: opts.fill || "#333", textAlign: opts.align || "center", textVerticalAlign: opts.valign || "middle" },
  });
}
const stepAt = (c: number[][], t: number) => {
  let y = c[0][1];
  for (const k of c) if (k[0] <= t) y = k[1];
  return y;
};
function ribbon(p: any, band: number[][], fill: string) {
  series.push({
    type: "custom", ...refs(p), silent: true, data: band,
    renderItem: (ctx: any, api: any) => {
      if (ctx.dataIndex !== 0) return null;
      const upper: number[][] = [], lower: number[][] = [];
      band.forEach((r, i) => {
        const next = band[Math.min(i + 1, band.length - 1)][0];
        upper.push(api.coord([r[0], r[2]]), api.coord([next, r[2]]));
        lower.push(api.coord([r[0], r[1]]), api.coord([next, r[1]]));
      });
      return { type: "polygon", shape: { points: upper.concat(lower.reverse()) }, style: { fill } };
    },
  });
}
const CROSS = "path://M-0.14,-1H0.14V-0.14H1V0.14H0.14V1H-0.14V0.14H-1V-0.14H-0.14Z";
function km(p: any, name: string, color: string, curve: number[][], cens: number[]) {
  series.push({ type: "line", name, ...refs(p), step: "end", symbol: "none", lineStyle: { color, width: 1.3 }, itemStyle: { color }, data: curve, z: 3 });
  series.push({ type: "scatter", name, ...refs(p), symbol: CROSS, symbolSize: 6, itemStyle: { color }, data: cens.map((t) => [t, stepAt(curve, t)]), z: 3 });
}
function kmLegend(x: number, y: number, items: [string, string, string, number, number][]) {
  items.forEach(([text, fill, color, bx, tx]) => {
    graphics.push({ type: "rect", silent: true, shape: { x: bx, y: y - 5.5, width: 11.5, height: 11 }, style: { fill } });
    graphics.push({ type: "line", silent: true, shape: { x1: bx, y1: y, x2: bx + 11.5, y2: y }, style: { stroke: color, lineWidth: 1.2 } });
    graphics.push({ type: "line", silent: true, shape: { x1: bx + 5.75, y1: y - 2.5, x2: bx + 5.75, y2: y + 2.5 }, style: { stroke: color, lineWidth: 1 } });
    label(text, tx, y, 7.4, { align: "left" });
  });
  label("Risk", x, y, 7.4, {});
}
function roc(b: Box, xName: string, yName: string, xGap: number, yGap: number, curves: number[][][], names: string[], legendPos: number[]) {
  const t = [0, .2, .4, .6, .8, 1];
  const p = panel(b,
    { min: -0.04, max: legendPos[2], ticks: t, fmt: num(1), name: xName, gap: xGap, margin: 7.5 },
    { min: -0.04, max: 1.04, ticks: t, fmt: num(1), name: yName, gap: yGap, rotate: 90, margin: 7 });
  const cols = ["#FF2028", "#87CEEB", "#FFA500"];
  segments(p, [[-0.04, -0.04, 1.04, 1.04]], "#555", 0.7, [1.5, 1.5]);
  curves.forEach((c, i) => series.push({ type: "line", name: names[i], ...refs(p), step: "end", symbol: "none", lineStyle: { color: cols[i], width: 1.2 }, itemStyle: { color: cols[i] }, data: c }));
  legends.push({
    left: legendPos[0], top: legendPos[1], orient: "vertical", selectedMode: false,
    data: names.map((name, i) => ({ name, icon: "rect", itemStyle: { color: cols[i] } })),
    itemWidth: 11, itemHeight: 1.4, itemGap: 0.5, padding: [3.5, legendPos[4], 3, 5.2],
    borderColor: "#777", borderWidth: 1, backgroundColor: "#fff",
    textStyle: { fontSize: legendPos[3], fontFamily: FONT, color: "#333" },
  });
}
function pointLegend(left: number, top: number, items: [string, string][]) {
  legends.push({
    left, top, orient: "vertical", selectedMode: false, itemWidth: 5, itemHeight: 5, itemGap: 1.2, padding: 0,
    data: items.map(([name, color]) => ({ name, icon: "circle", itemStyle: { color } })),
    textStyle: { fontSize: 7.6, fontFamily: FONT, color: "#333" },
  });
}
function boxLegend(left: number, top: number, items: [string, string][], gap: number) {
  legends.push({
    left, top, orient: "horizontal", selectedMode: false, itemWidth: 4, itemHeight: 4, itemGap: gap, padding: [4, 3.5, 4, 3.5],
    borderColor: "#888", borderWidth: 1.2, backgroundColor: "#fff",
    data: items.map(([name, color]) => ({ name, icon: "circle", itemStyle: { color } })),
    textStyle: { fontSize: 6.4, fontFamily: FONT, color: "#333" },
  });
}
const RED = "#FF0000", LIME = "#00FF00", PINK = "#DF536B", GRN = "#61D04F";
function riskAxis(min: number, max: number, ticks: number[], name?: string, gap?: number) {
  return { min, max, ticks, fmt: num(0), name, gap, size: 6, margin: 8.5, nameSize: 6.6 };
}

function buildOption() {
  // A
  const pA = panel([43, 25, 255, 212],
    { min: -8.09, max: -2.34, ticks: [-8, -7, -6, -5, -4, -3], fmt: num(0), name: "Log Lambda", gap: 22, margin: 8.5 },
    { min: -1.272, max: 0.972, ticks: [-1, -.5, 0, .5], fmt: num(1), name: "Coefficients", gap: 21, rotate: 90, margin: 7 });
  xAxes.push(axis(pA.g, { min: -8.09, max: -2.34, pos: "top", ticks: [-8, -7, -6, -5, -4, -3], fmt: (v: number) => aTop[String(v)], margin: 7 }));
  aLines.forEach((row) => {
    const vals = row.slice(1);
    const color = aColors[row[0]];
    series.push({
      type: "line", ...refs(pA), symbol: "none", smooth: 0.35, smoothMonotone: "x", silent: true,
      lineStyle: { color, width: 0.8 },
      data: aKnots.map((x, i) => [x, vals[i] ?? 0]),
    });
  });
  series.push({
    type: "scatter", ...refs(pA), symbolSize: 1, silent: true, itemStyle: { color: "rgba(0,0,0,0)" },
    data: aLines.map((row) => [-7.99, row[1]]),
    label: { show: true, position: "inside", fontSize: 3, fontFamily: FONT, color: "#555", formatter: (p: any) => aIds[p.dataIndex] },
  });

  // B
  const pB = panel([301.7, 25, 512, 212],
    { min: -8.08, max: -2.37, ticks: [-8, -7, -6, -5, -4, -3], fmt: num(0), name: "Log(λ)", gap: 21, margin: 8 },
    { min: 11.54, max: 14.35, ticks: [12, 12.5, 13, 13.5, 14], fmt: num(1), name: "Partial Likelihood Deviance", gap: 22, rotate: 90, margin: 7 });
  const topMap = new Map(bTopX.map((x, i) => [String(x), bTopL[i]]));
  xAxes.push(axis(pB.g, { min: -8.08, max: -2.37, pos: "top", ticks: bTopX, tickLen: 0, fmt: (v: number) => topMap.get(String(v)), margin: 7 }));
  series.push({
    type: "custom", ...refs(pB), silent: true, data: bX.map((x, i) => [x, bLo[i], bUp[i]]),
    renderItem: (_: any, api: any) => {
      const x = api.value(0);
      const a = api.coord([x, api.value(1)]), b = api.coord([x, api.value(2)]);
      const style = { stroke: "#cccccc", lineWidth: 0.8, fill: "none" };
      const seg = (x1: number, y1: number, x2: number, y2: number) => ({ type: "line", shape: { x1, y1, x2, y2 }, style });
      return { type: "group", children: [seg(a[0], a[1], b[0], b[1]), seg(a[0] - 1.5, a[1], a[0] + 1.5, a[1]), seg(b[0] - 1.5, b[1], b[0] + 1.5, b[1])] };
    },
  });
  series.push({
    type: "scatter", name: "Partial Likelihood Deviance", ...refs(pB), symbolSize: 2.8, itemStyle: { color: "#FF0000" },
    data: bX.map((x, i) => [x, bMid[i]]),
    markLine: { silent: true, symbol: "none", label: { show: false }, lineStyle: { color: "#555", type: [2, 1.5], width: 0.8 }, data: bVert.map((v) => ({ xAxis: v })) },
  });

  // C
  roc([563.3, 25, 775, 212.3], "1−Specificity", "Sensitivity", 23, 22, [cRed, cBlue, cOrange], cNames, [665.3, 183.3, 1.0425, 6.1, 3]);

  // D
  const pD = panel([69.7, 295.7, 365.7, 441],
    { min: -0.593, max: 12.6, ticks: [0,1,2,3,4,5,6,7,8,9,10,11,12], fmt: num(0), name: "Time(years)", gap: 11, nameSize: 10.5, nameColor: "#222", size: 8.8, color: "#333", line: true, tickColor: "#333", tickLen: 2, margin: 3 },
    { min: -0.05, max: 1.05, ticks: [0, .25, .5, .75, 1], fmt: num(2), name: "Survival probability", gap: 42, nameSize: 9.6, nameColor: "#222", size: 9.6, color: "#333", line: true, tickColor: "#333", margin: 2, tickLen: 2 }, false);
  ribbon(pD, dHighBand, "rgba(255,0,0,0.3)");
  ribbon(pD, dLowBand, "rgba(0,0,255,0.3)");
  km(pD, "High risk", "#FF0000", dHigh, dHighCens);
  km(pD, "Low risk", "#0000FF", dLow, dLowCens);
  label("p=2.158e−05", 89, 408, 9.2, { align: "left" });
  kmLegend(168, 277, [["High risk", "rgba(255,0,0,0.3)", "#FF0000", 180.3, 197], ["Low risk", "rgba(0,0,255,0.3)", "#0000FF", 230.7, 247]]);

  // E
  const eX = [0, 100, 200, 300, 400, 500];
  const pE1 = panel([426.7, 275, 776.7, 341],
    riskAxis(-19, 520.6, eX), { min: .868, max: 3.225, ticks: [1, 2, 3], fmt: num(1), name: "Risk score", gap: 26, rotate: 90, margin: 8, nameSize: 6.6 });
  series.push({ type: "scatter", name: "low Risk", ...refs(pE1), symbolSize: 3.5, itemStyle: { color: LIME }, data: eLowScore.map((v, i) => [1 + i * 5, v]) });
  series.push({
    type: "scatter", name: "High risk", ...refs(pE1), symbolSize: 3.5, itemStyle: { color: RED }, data: eHighScore.map((v, i) => [250 + i * 5, v]).concat(eTail),
    markLine: { silent: true, symbol: "none", label: { show: false }, lineStyle: { color: "#555", type: [2, 2], width: 0.8 }, data: [{ xAxis: 250 }, { yAxis: 1 }] },
  });
  pointLegend(431.5, 280.5, [["High risk", RED], ["low Risk", LIME]]);
  const pE2 = panel([426.7, 373.3, 776.7, 439.3],
    riskAxis(-19.5, 520, eX, "Patients (increasing risk socre)", 26), { min: -.5, max: 12.13, ticks: [0, 2, 4, 6, 8, 10, 12], fmt: num(0), name: "Survival time (years)", gap: 26, rotate: 90, margin: 8, nameSize: 6.6 });
  series.push({ type: "scatter", name: "Alive", ...refs(pE2), symbolSize: 4, itemStyle: { color: LIME }, data: eAlive });
  series.push({
    type: "scatter", name: "Dead", ...refs(pE2), symbolSize: 4, itemStyle: { color: RED }, data: eDead,
    markLine: { silent: true, symbol: "none", label: { show: false }, lineStyle: { color: "#555", type: [2, 2], width: 0.8 }, data: [{ xAxis: 250 }] },
  });
  pointLegend(431.5, 378, [["Dead", RED], ["Alive", LIME]]);

  // F
  const pF = panel([42.3, 579.3, 149.3, 672.7],
    { min: -300, max: 300, ticks: [-300, -200, -100, 0, 100, 200, 300], fmt: num(0), name: "PC1", gap: 16, size: 5.2, tickLen: 1.5, margin: 2, nameSize: 7 },
    { min: -100, max: 250, ticks: [-100, -50, 0, 50, 100, 150, 200, 250], fmt: num(0), name: "PC3", gap: 17, size: 5.2, rotate: 90, tickLen: 1.5, margin: 2, nameSize: 7 });
  grids[pF.g].borderColor = "#555";
  const fFloor: number[][] = [];
  [-300, -200, -100, 0, 100, 200, 300].forEach((x) => fFloor.push([x, -100, x + 219, -8.75]));
  [.2, .4, .6, .8].forEach((f) => fFloor.push([-300 + 219 * f, -100 + 91.25 * f, 300 + 219 * f, -100 + 91.25 * f]));
  segments(pF, fFloor, "#dddddd", 0.7);
  segments(pF, [[-81, 338.75, 519, 338.75], [-81, 338.75, -81, -8.75], [-300, 250, -81, 338.75], [300, 250, 519, 338.75], [-300, -100, -81, -8.75], [300, -100, 519, -8.75], [-81, -8.75, 519, -8.75]], "#666", 0.8);
  series.push({ type: "scatter", name: "Low risk", ...refs(pF), clip: false, symbolSize: 3.8, itemStyle: { color: GRN }, data: fLowRisk });
  series.push({ type: "scatter", name: "High risk", ...refs(pF), clip: false, symbolSize: 3.8, itemStyle: { color: PINK }, data: fHighRisk });
  series.push({ type: "scatter", name: "Low risk", ...refs(pF), clip: false, symbolSize: 3.8, itemStyle: { color: GRN }, data: fLowTop });
  boxLegend(81, 526, [["Low risk", GRN], ["High risk", PINK]], 5.5);
  fDepth.forEach((d: any) => label(d[0], d[1], d[2], 5.2, { fill: "#444" }));
  label("PC2", 214, 648, 7, { rotation: Math.PI / 2 });

  // G
  const pG = panel([247.3, 587.3, 327.7, 667.7],
    { min: -6, max: 4, ticks: [-6, -4, -2, 0, 2, 4], fmt: num(0), name: "PC1", gap: 18, size: 5.2, tickLen: 1.5, margin: 2.5, nameSize: 7 },
    { min: -4, max: 4, ticks: [-4, -3, -2, -1, 0, 1, 2, 3, 4], fmt: num(0), name: "PC3", gap: 17, size: 5.2, rotate: 90, tickLen: 1.5, margin: 2, nameSize: 7 });
  grids[pG.g].borderColor = "#555";
  const gFloor: number[][] = [];
  [-6, -4, -2, 0, 2, 4].forEach((x) => gFloor.push([x, -4, x + 8.8, -.41]));
  [.14, .28, .43, .57, .71, .86].forEach((f) => gFloor.push([-6 + 8.8 * f, -4 + 3.59 * f, 4 + 8.8 * f, -4 + 3.59 * f]));
  segments(pG, gFloor, "#dddddd", 0.7);
  segments(pG, [[2.8, 7.56, 12.8, 7.56], [2.8, 7.56, 2.8, -.41], [-6, 4, 2.8, 7.56], [4, 4, 12.8, 7.56], [-6, -4, 2.8, -.41], [4, -4, 12.8, -.41], [2.8, -.41, 12.8, -.41]], "#666", 0.8);
  series.push({ type: "scatter", name: "High risk", ...refs(pG), clip: false, symbolSize: 3.8, itemStyle: { color: PINK }, data: gHighRisk });
  series.push({ type: "scatter", name: "Low risk", ...refs(pG), clip: false, symbolSize: 3.8, itemStyle: { color: GRN }, data: gLowRisk });
  boxLegend(287, 522, [["Low risk", GRN], ["High risk", PINK]], 5.5);
  gDepth.forEach((d: any) => label(d[0], d[1], d[2], 5.2, { fill: "#444" }));
  label("PC2", 419, 633, 7, { rotation: Math.PI / 2 });

  // H
  const pH = panel([492, 526.7, 776.7, 671.7],
    { min: -0.78, max: 16.74, ticks: [0,1,2,3,4,5,6,7,8,9,10,11,12,13,14,15,16], fmt: num(0), name: "Time(years)", gap: 13, nameSize: 10, nameColor: "#222", size: 8, color: "#333", line: true, tickColor: "#333", tickLen: 2, margin: 2.5 },
    { min: -0.05, max: 1.05, ticks: [0, .25, .5, .75, 1], fmt: num(2), name: "Survival probability", gap: 42, nameSize: 9.8, nameColor: "#222", size: 8.8, color: "#333", line: true, tickColor: "#333", tickLen: 2, margin: 3 }, false);
  ribbon(pH, hHighBand, "rgba(255,0,0,0.3)");
  ribbon(pH, hLowBand, "rgba(0,0,255,0.3)");
  km(pH, "High risk", "#FF0000", hHigh, hHighCens);
  km(pH, "Low risk", "#0000FF", hLow, hLowCens);
  label("p=7.648e−04", 510, 639, 8, { align: "left" });
  kmLegend(586.7, 508, [["High risk", "rgba(255,0,0,0.3)", "#FF0000", 598, 614], ["Low risk", "rgba(0,0,255,0.3)", "#0000FF", 647, 662.7]]);

  // I
  roc([75, 727.3, 280, 914], "1−Specificity", "Sensitivity", 24, 21, [iRed, iBlue, iOrange], iNames, [174.3, 885, 1.04, 5.95, 1.5]);

  // J
  const jX = [0, 100, 200, 300, 400, 500];
  const pJ1 = panel([426.7, 740, 777.7, 805],
    riskAxis(-23.4, 597, jX, "Patients (increasing risk socre)", 27), { min: .58, max: 1.81, ticks: [.6, 1, 1.4, 1.8], tickValues: [.6, .8, 1, 1.2, 1.4, 1.6, 1.8], fmt: num(1), name: "Risk score", gap: 26, rotate: 90, margin: 8, nameSize: 6.6 });
  series.push({ type: "scatter", name: "low Risk", ...refs(pJ1), symbolSize: 3.5, itemStyle: { color: LIME }, data: jLowScore.map((v, i) => [1 + i * 5, v]) });
  series.push({
    type: "scatter", name: "High risk", ...refs(pJ1), symbolSize: 3.5, itemStyle: { color: RED }, data: jHighScore.map((v, i) => [280 + i * 5, v]),
    markLine: { silent: true, symbol: "none", label: { show: false }, lineStyle: { color: "#555", type: [2, 2], width: 0.8 }, data: [{ xAxis: 280 }, { yAxis: .985 }] },
  });
  pointLegend(432, 744.5, [["High risk", RED], ["low Risk", LIME]]);
  const pJ2 = panel([426.7, 849.3, 777.7, 916],
    riskAxis(-23.4, 597, jX, "Patients (increasing risk socre)", 25), { min: -.73, max: 17.3, ticks: [0, 5, 10, 15], fmt: num(0), name: "Survival time (years)", gap: 26, rotate: 90, margin: 8, nameSize: 6.6 });
  series.push({ type: "scatter", name: "Alive", ...refs(pJ2), symbolSize: 4, itemStyle: { color: LIME }, data: jAlive });
  series.push({
    type: "scatter", name: "Dead", ...refs(pJ2), symbolSize: 4, itemStyle: { color: RED }, data: jDead,
    markLine: { silent: true, symbol: "none", label: { show: false }, lineStyle: { color: "#555", type: [2, 2], width: 0.8 }, data: [{ xAxis: 280 }] },
  });
  pointLegend(432, 854, [["Dead", RED], ["Alive", LIME]]);

  panelLetters.forEach((l: any) => label(l[0], l[1], l[2], 14.5, { align: "left", valign: "bottom", fill: "#111" }));

  return {
    animation: false,
    backgroundColor: "#fff",
    textStyle: { fontFamily: FONT },
    grid: grids, xAxis: xAxes, yAxis: yAxes, series, legend: legends,
    graphic: { elements: graphics },
  };
}

export default function App() {
  const ref = useRef<HTMLDivElement>(null);
  useEffect(() => {
    if (!ref.current) return;
    grids.length = xAxes.length = yAxes.length = series.length = legends.length = graphics.length = 0;
    const chart = echarts.init(ref.current, undefined, { renderer: "svg" });
    chart.setOption(buildOption() as any);
    return () => chart.dispose();
  }, []);
  return <div ref={ref} style={{ position: "fixed", left: 0, top: 0, width: 778, height: 948, filter: "blur(0.35px)" }} />;
}
